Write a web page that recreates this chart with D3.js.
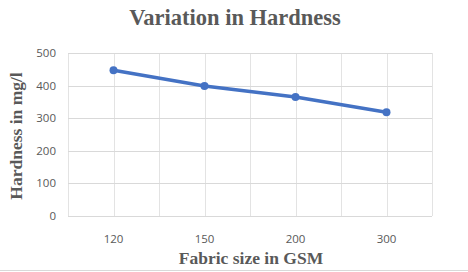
<!DOCTYPE html>
<html>
<head>
<meta charset="utf-8">
<script src="https://cdn.jsdelivr.net/npm/d3@7"></script>
<style>
  body { margin: 0; background: #fff; }
  svg { display: block; }
</style>
</head>
<body>
<div id="chart"></div>
<script>
// data
var categories = ['120', '150', '200', '300'];
var hardness = [447, 399, 365, 318];
var yTicks = [0, 100, 200, 300, 400, 500];

var width = 468, height = 272;
var plotLeft = 68, plotRight = 432, plotTop = 53, plotBottom = 216;

var svg = d3.select('#chart').append('svg')
  .attr('width', width)
  .attr('height', height);

var x = d3.scalePoint().domain(categories).range([plotLeft, plotRight]).padding(0.5);
var y = d3.scaleLinear().domain([0, 500]).range([plotBottom, plotTop]);

// vertical grid: band edges and category centres
var step = x.step();
var vLines = d3.range(0, categories.length * 2 + 1).map(function(i) { return plotLeft + i * step / 2; });
svg.append('g').selectAll('line')
  .data(vLines)
  .enter().append('line')
  .attr('x1', function(d) { return Math.round(d) + 0.5; })
  .attr('x2', function(d) { return Math.round(d) + 0.5; })
  .attr('y1', plotTop)
  .attr('y2', plotBottom)
  .attr('stroke', '#e3e3e3')
  .attr('stroke-width', 1);

// horizontal grid
svg.append('g').selectAll('line')
  .data(yTicks)
  .enter().append('line')
  .attr('x1', plotLeft)
  .attr('x2', plotRight)
  .attr('y1', function(d) { return Math.round(y(d)) + 0.5; })
  .attr('y2', function(d) { return Math.round(y(d)) + 0.5; })
  .attr('stroke', '#d9d9d9')
  .attr('stroke-width', 1);

// y tick labels
svg.append('g').selectAll('text')
  .data(yTicks)
  .enter().append('text')
  .text(function(d) { return d; })
  .attr('x', 56)
  .attr('y', function(d) { return y(d); })
  .attr('dy', '0.35em')
  .attr('text-anchor', 'end')
  .attr('font-family', 'Open Sans, sans-serif')
  .attr('font-size', '11.5px')
  .attr('fill', '#595959');

// x tick labels
svg.append('g').selectAll('text')
  .data(categories)
  .enter().append('text')
  .text(function(d) { return d; })
  .attr('x', function(d) { return x(d); })
  .attr('y', 243)
  .attr('text-anchor', 'middle')
  .attr('font-family', 'Open Sans, sans-serif')
  .attr('font-size', '11.5px')
  .attr('fill', '#595959');

// the series
var line = d3.line()
  .x(function(d, i) { return x(categories[i]); })
  .y(function(d) { return y(d); });

svg.append('path')
  .datum(hardness)
  .attr('d', line)
  .attr('fill', 'none')
  .attr('stroke', '#4472c4')
  .attr('stroke-width', 3.5)
  .attr('stroke-linejoin', 'round')
  .attr('stroke-linecap', 'round');

svg.append('g').selectAll('circle')
  .data(hardness)
  .enter().append('circle')
  .attr('cx', function(d, i) { return x(categories[i]); })
  .attr('cy', function(d) { return y(d); })
  .attr('r', 4)
  .attr('fill', '#4472c4');

// titles
svg.append('text')
  .text('Variation in Hardness')
  .attr('x', 235)
  .attr('y', 25)
  .attr('text-anchor', 'middle')
  .attr('font-family', 'Liberation Serif, serif')
  .attr('font-weight', 'bold')
  .attr('font-size', '22.5px')
  .attr('fill', '#595959');

svg.append('text')
  .text('Fabric size in GSM')
  .attr('x', 251)
  .attr('y', 264)
  .attr('text-anchor', 'middle')
  .attr('font-family', 'Liberation Serif, serif')
  .attr('font-weight', 'bold')
  .attr('font-size', '17.5px')
  .attr('fill', '#595959');

svg.append('text')
  .text('Hardness in mg/l')
  .attr('transform', 'translate(22,136) rotate(-90)')
  .attr('text-anchor', 'middle')
  .attr('font-family', 'Liberation Serif, serif')
  .attr('font-weight', 'bold')
  .attr('font-size', '17.5px')
  .attr('fill', '#595959');

// chart area border at the bottom
svg.append('line')
  .attr('x1', 0).attr('x2', width)
  .attr('y1', 270.5).attr('y2', 270.5)
  .attr('stroke', '#d9d9d9');
</script>
</body>
</html>
